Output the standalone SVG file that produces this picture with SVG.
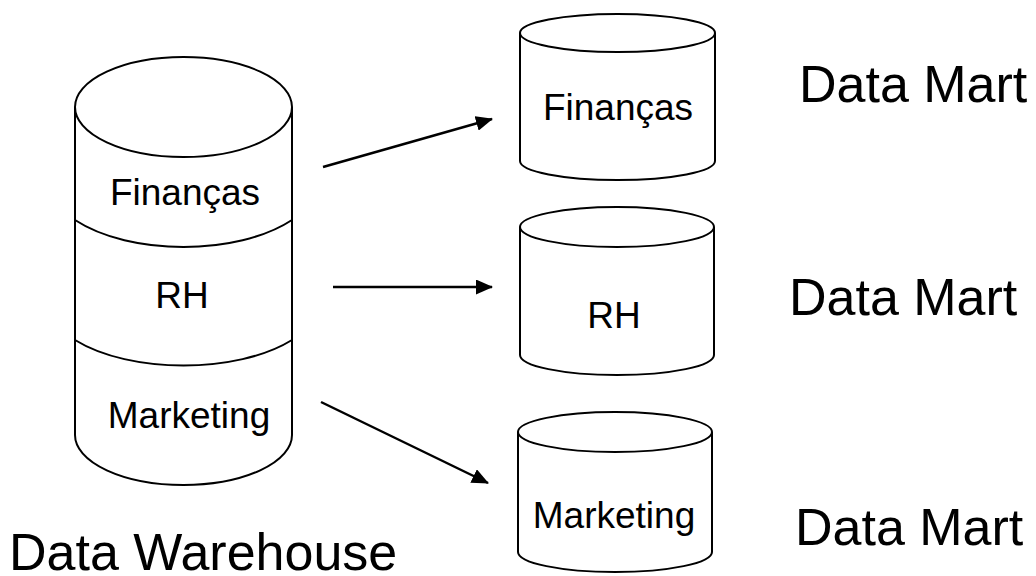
<svg xmlns="http://www.w3.org/2000/svg" width="1036" height="576" viewBox="0 0 1036 576">
<defs>
<style>
.s{fill:#fff;stroke:#000;stroke-width:2}
.l{fill:none;stroke:#000;stroke-width:2}
.c{fill:none;stroke:#000;stroke-width:2.5}
.t{font-family:"Liberation Sans",Arial,sans-serif;fill:#000}
.in{font-size:37px;text-anchor:middle}
.big{font-size:52px}
</style>
<marker id="ah" viewBox="0 0 17 15" refX="16" refY="7.5" markerWidth="17" markerHeight="15" markerUnits="userSpaceOnUse" orient="auto">
<path d="M0,0 L17,7.5 L0,15 Z" fill="#000"/>
</marker>
</defs>
<rect width="1036" height="576" fill="#fff"/>
<g id="dw">
<path class="s" d="M75,107 L75,435 A108.5,50 0 0 0 292,435 L292,107"/>
<ellipse class="s" cx="183.5" cy="107" rx="108.5" ry="50"/>
<path class="l" d="M75,220 C130,256 237,256 292,220"/>
<path class="l" d="M75,340 C130,374 237,374 292,340"/>
<text class="t in" x="185" y="205">Finanças</text>
<text class="t in" x="182" y="308">RH</text>
<text class="t in" x="189" y="428">Marketing</text>
<text class="t big" x="9" y="570">Data Warehouse</text>
</g>
<g id="dm1">
<path class="s" d="M520,33 L520,161 A97.5,19 0 0 0 715,161 L715,33"/>
<ellipse class="s" cx="617.5" cy="33" rx="97.5" ry="19"/>
<text class="t in" x="618" y="120">Finanças</text>
<text class="t big" x="799" y="102">Data Mart</text>
</g>
<g id="dm2">
<path class="s" d="M520,227 L520,355 A97,20 0 0 0 714,355 L714,227"/>
<ellipse class="s" cx="617" cy="227" rx="97" ry="20"/>
<text class="t in" x="614" y="328">RH</text>
<text class="t big" x="789" y="315">Data Mart</text>
</g>
<g id="dm3">
<path class="s" d="M518,432 L518,552 A97,20 0 0 0 712,552 L712,432"/>
<ellipse class="s" cx="615" cy="432" rx="97" ry="20"/>
<text class="t in" x="614" y="528">Marketing</text>
<text class="t big" x="795" y="545">Data Mart</text>
</g>
<g id="connectors">
<line class="c" x1="323" y1="167" x2="492" y2="119" marker-end="url(#ah)"/>
<line class="c" x1="333" y1="287" x2="492" y2="287" marker-end="url(#ah)"/>
<line class="c" x1="321" y1="402" x2="488" y2="483" marker-end="url(#ah)"/>
</g>
</svg>
